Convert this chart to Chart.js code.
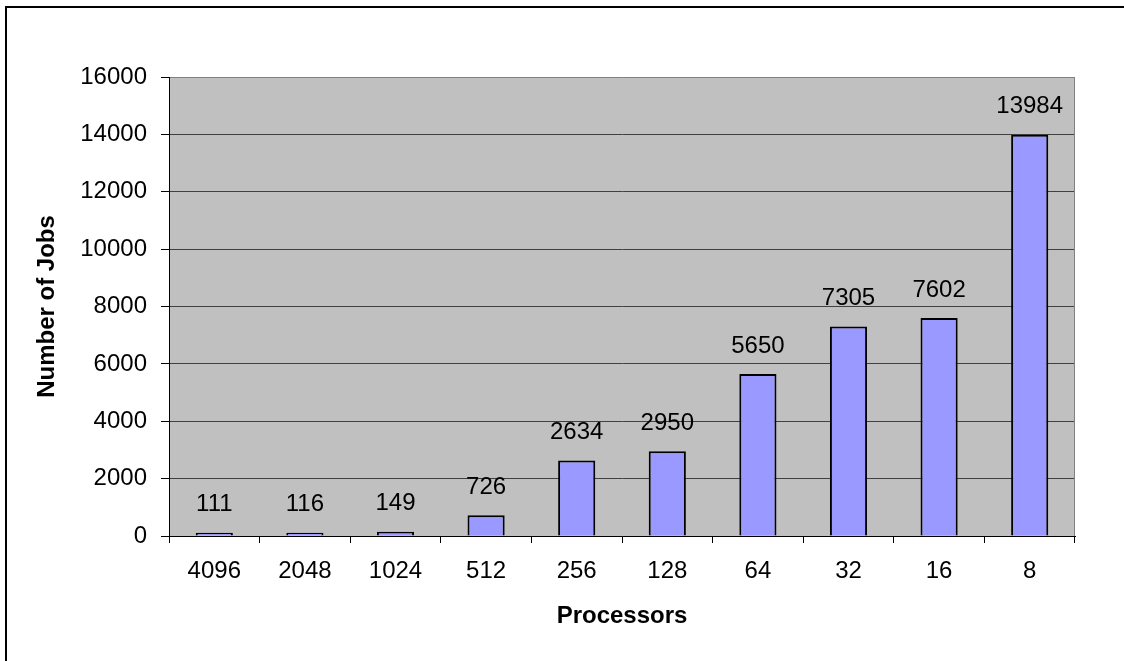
<!DOCTYPE html>
<html>
<head>
<meta charset="utf-8">
<title>Number of Jobs by Processors</title>
<script src="https://cdn.jsdelivr.net/npm/chart.js@4/dist/chart.umd.min.js"></script>
<style>
  body { margin: 0; background: #fff; }
  #wrap { width: 1124px; height: 661px; }
</style>
</head>
<body>
<div id="wrap"><canvas id="jobsChart" width="1124" height="661"></canvas></div>
<script>
const processorCounts = ["4096", "2048", "1024", "512", "256", "128", "64", "32", "16", "8"];
const jobCounts = [111, 116, 149, 726, 2634, 2950, 5650, 7305, 7602, 13984];
const yTicks = [0, 2000, 4000, 6000, 8000, 10000, 12000, 14000, 16000];

const FONT = "'Liberation Sans', Arial, sans-serif";

// gray plot area, frame lines and value labels
const chartDecor = {
  id: "chartDecor",
  beforeDraw(chart) {
    const { ctx, chartArea: a } = chart;
    ctx.save();
    ctx.fillStyle = "#c0c0c0";
    ctx.fillRect(a.left, a.top, a.right - a.left, a.bottom - a.top);
    ctx.restore();
  },
  afterDatasetsDraw(chart) {
    const { ctx, chartArea: a } = chart;
    ctx.save();
    // right edge of plot area
    ctx.strokeStyle = "#808080";
    ctx.lineWidth = 1;
    ctx.beginPath();
    ctx.moveTo(a.right - 0.5, a.top);
    ctx.lineTo(a.right - 0.5, a.bottom);
    ctx.stroke();

    // labels above the bars
    ctx.fillStyle = "#000";
    ctx.font = "24px " + FONT;
    ctx.textAlign = "center";
    ctx.textBaseline = "middle";
    const meta = chart.getDatasetMeta(0);
    meta.data.forEach((bar, i) => {
      ctx.fillText(String(jobCounts[i]), bar.x, bar.y - 28);
    });

    // outer frame (only top and left fall inside the picture)
    ctx.fillStyle = "#000";
    ctx.fillRect(5, 6, chart.width - 5, 2);
    ctx.fillRect(5, 6, 2, chart.height - 6);
    ctx.restore();
  },
};

const ctx = document.getElementById("jobsChart").getContext("2d");
new Chart(ctx, {
  type: "bar",
  data: {
    labels: processorCounts,
    datasets: [
      {
        label: "Number of Jobs",
        data: jobCounts,
        backgroundColor: "#9999ff",
        borderColor: "#000",
        borderWidth: 2,
        barPercentage: 0.41,
        categoryPercentage: 1,
      },
    ],
  },
  options: {
    responsive: false,
    animation: false,
    layout: { padding: { left: 0, top: 77, right: 49, bottom: 0 } },
    plugins: {
      legend: { display: false },
      tooltip: { enabled: false },
    },
    scales: {
      x: {
        afterFit: (scale) => { scale.height = 125; },
        grid: {
          offset: true,
          drawOnChartArea: false,
          tickLength: 7,
          tickColor: "#000",
        },
        border: { color: "#000", width: 1 },
        ticks: {
          color: "#000",
          padding: 14,
          maxRotation: 0,
          font: { family: FONT, size: 24 },
        },
        title: {
          display: true,
          text: "Processors",
          color: "#000",
          padding: { top: 0, bottom: 30 },
          font: { family: FONT, size: 24, weight: "bold" },
        },
      },
      y: {
        min: yTicks[0],
        max: yTicks[yTicks.length - 1],
        afterFit: (scale) => { scale.width = 169; },
        afterBuildTicks: (scale) => {
          scale.ticks = yTicks.map((v) => ({ value: v }));
        },
        grid: {
          color: (c) => (c.tick && c.tick.value === 16000 ? "#808080" : "#404040"),
          tickLength: 8,
          tickColor: "#000",
        },
        border: { color: "#000", width: 1 },
        ticks: {
          color: "#000",
          padding: 14,
          font: { family: FONT, size: 24 },
          callback: (value) => String(value),
        },
        title: {
          display: true,
          text: "Number of Jobs",
          color: "#000",
          padding: { top: 33, bottom: 0 },
          font: { family: FONT, size: 24, weight: "bold" },
        },
      },
    },
  },
  plugins: [chartDecor],
});
</script>
</body>
</html>
